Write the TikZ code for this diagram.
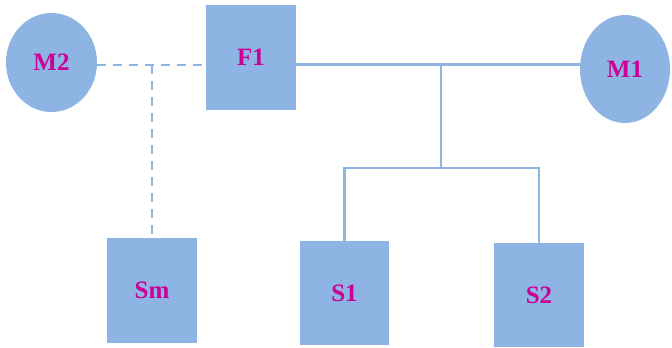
\documentclass[tikz,border=0pt]{standalone}
\usepackage{fontspec}
\setmainfont{Liberation Serif}
\usetikzlibrary{shapes.geometric}
\definecolor{boxblue}{HTML}{8EB4E3}
\definecolor{labelmag}{HTML}{CC0099}
\tikzset{
  member/.style={fill=boxblue, draw=none, inner sep=0pt,
    font=\fontsize{25}{29}\selectfont\bfseries, text=labelmag},
  male/.style={member, rectangle},
  female/.style={member, ellipse},
  tie/.style={draw=boxblue, line width=2.6pt},
  exline/.style={tie, dash pattern=on 9pt off 7pt},
}
\begin{document}
\begin{tikzpicture}[x=1pt, y=-1pt]
  \useasboundingbox (0,0) rectangle (672,348);
  % family members
  \node[female, minimum width=91pt, minimum height=99pt] (M2) at (51.5,62.5) {M2};
  \node[male, minimum width=90pt, minimum height=105pt] (F1) at (251,57.5) {F1};
  \node[female, minimum width=90pt, minimum height=108pt] (M1) at (625,69) {M1};
  \node[male, minimum width=90pt, minimum height=105pt] (Sm) at (152,290.5) {Sm};
  \node[male, minimum width=89pt, minimum height=104pt] (S1) at (344.5,293) {S1};
  \node[male, minimum width=90pt, minimum height=104pt] (S2) at (539,295) {S2};
  % junction points
  \coordinate (jn) at (441,64.5);
  \coordinate (bj) at (441,168);
  \coordinate (dj) at (152,65);
  % current marriage and children
  \draw[tie] (jn -| F1.east) -- (jn -| M1.west);
  \draw[tie] (jn) -- (bj);
  \draw[tie] (S1.north) -- (S1.north |- bj) -- (S2.north |- bj) -- (S2.north);
  % former marriage and child
  \draw[exline] (dj -| M2.east) -- (dj -| F1.west);
  \draw[exline] (dj) -- (Sm.north);
\end{tikzpicture}
\end{document}
